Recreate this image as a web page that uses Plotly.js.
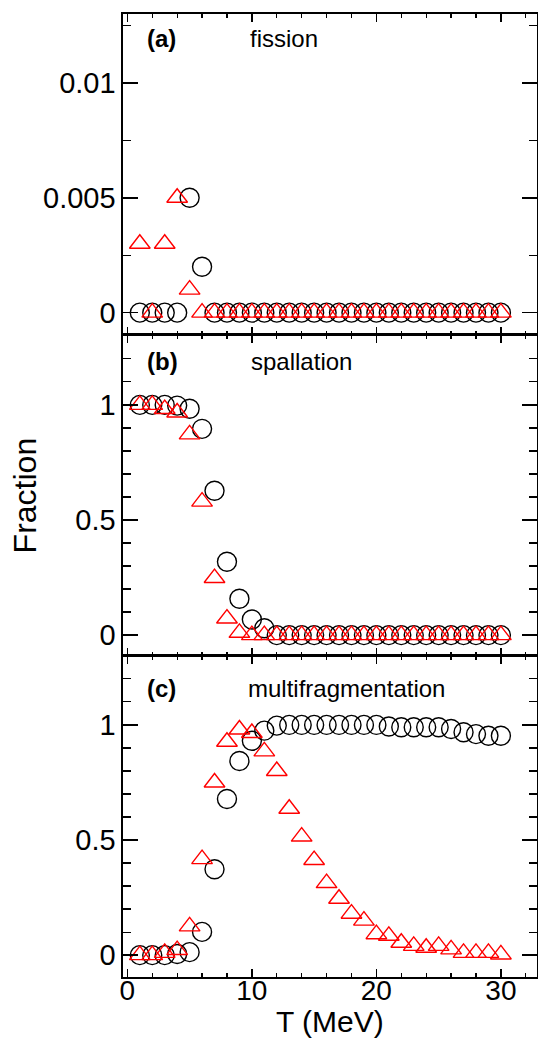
<!DOCTYPE html>
<html>
<head>
<meta charset="utf-8">
<script src="https://cdn.plot.ly/plotly-3.0.1.min.js"></script>
<style>html,body{margin:0;padding:0;background:#fff;}#chart{width:538px;height:1040px;}</style>
</head>
<body>
<div id="chart"></div>
<script>
// Temperature T (MeV)
const T = [1,2,3,4,5,6,7,8,9,10,11,12,13,14,15,16,17,18,19,20,21,22,23,24,25,26,27,28,29,30];

// (a) fission fraction
const fissionCircle = [0,0,0,0,0.005,0.002,0,0,0,0,0,0,0,0,0,0,0,0,0,0,0,0,0,0,0,0,0,0,0,0];
const fissionTriangle = [0.003,0,0.003,0.005,0.001,0,0,0,0,0,0,0,0,0,0,0,0,0,0,0,0,0,0,0,0,0,0,0,0,0];

// (b) spallation fraction
const spallCircle = [1.0,1.0,1.0,0.997,0.983,0.896,0.627,0.319,0.158,0.068,0.03,0,0,0,0,0,0,0,0,0,0,0,0,0,0,0,0,0,0,0];
const spallTriangle = [1.0,1.0,0.982,0.967,0.872,0.58,0.248,0.072,0.01,0,0,0,0,0,0,0,0,0,0,0,0,0,0,0,0,0,0,0,0,0];

// (c) multifragmentation fraction
const multiCircle = [0,0,0,0.005,0.013,0.101,0.373,0.678,0.843,0.931,0.975,0.997,1,1,1,1,1,1,1,1,0.993,0.99,0.99,0.99,0.99,0.982,0.968,0.96,0.953,0.953];
const multiTriangle = [0,0,0.01,0.022,0.125,0.417,0.75,0.927,0.98,0.965,0.885,0.80,0.636,0.515,0.413,0.313,0.245,0.18,0.15,0.091,0.084,0.054,0.04,0.032,0.04,0.025,0.01,0.01,0.01,0.003];

const panelLetters = ['(a)','(b)','(c)'];
const panelNames = ['fission','spallation','multifragmentation'];
const xTitle = 'T (MeV)';
const yTitle = 'Fraction';

const FONT = 'Liberation Sans, Arial, Helvetica, sans-serif';

function circ(y, xa, ya){
  return {x:T, y:y, xaxis:xa, yaxis:ya, type:'scatter', mode:'markers', showlegend:false,
    marker:{symbol:'circle-open', size:19, color:'#000', line:{color:'#000', width:1.4}}};
}
function tri(y, xa, ya){
  return {x:T, y:y, xaxis:xa, yaxis:ya, type:'scatter', mode:'markers', showlegend:false,
    marker:{symbol:'triangle-up-open', size:18, color:'#ff0000', line:{color:'#ff0000', width:1.4}}};
}

const data = [
  circ(fissionCircle,'x','y'), tri(fissionTriangle,'x','y'),
  circ(spallCircle,'x2','y2'), tri(spallTriangle,'x2','y2'),
  circ(multiCircle,'x3','y3'), tri(multiTriangle,'x3','y3')
];

function xax(anchor, labels){
  return {anchor:anchor, domain:[0,1], range:[-0.35,32.9], showgrid:false, zeroline:false,
    showline:true, linecolor:'#000', linewidth:1.6, mirror:'ticks',
    ticks:'inside', ticklen:8, tickwidth:1.5, tickcolor:'#000', dtick:10, tick0:0,
    minor:{dtick:2, ticks:'inside', ticklen:4, tickwidth:1.2, tickcolor:'#000'},
    showticklabels:labels, ticklabelstandoff:-12, tickfont:{family:FONT, size:28, color:'#000'}};
}
function yax(anchor, domain, range, dtick, mdtick){
  return {anchor:anchor, domain:domain, range:range, showgrid:false, zeroline:false,
    showline:true, linecolor:'#000', linewidth:1.6, mirror:'ticks',
    ticks:'inside', ticklen:15, tickwidth:1.5, tickcolor:'#000', dtick:dtick, tick0:0,
    minor:{dtick:mdtick, ticks:'inside', ticklen:8, tickwidth:1.2, tickcolor:'#000'},
    tickfont:{family:FONT, size:29, color:'#000'}};
}

const annotations = [];
const labelY = [0.975, 0.639, 0.300];
const nameX = [0.302, 0.304, 0.297];
for (let i=0;i<3;i++){
  annotations.push({xref:'paper', yref:'paper', x:0.053, y:labelY[i], xanchor:'left', yanchor:'middle',
    text:'<b>'+panelLetters[i]+'</b>', showarrow:false, font:{family:FONT, size:24, color:'#000'}});
  annotations.push({xref:'paper', yref:'paper', x:nameX[i], y:labelY[i], xanchor:'left', yanchor:'middle',
    text:panelNames[i], showarrow:false, font:{family:FONT, size:24, color:'#000'}});
}
annotations.push({xref:'paper', yref:'paper', x:-0.237, y:0.5, xanchor:'center', yanchor:'middle',
  text:yTitle, textangle:-90, showarrow:false, font:{family:FONT, size:32, color:'#000'}});
annotations.push({xref:'paper', yref:'paper', x:0.5, y:-0.0644, xanchor:'center', yanchor:'bottom',
  text:xTitle, showarrow:false, borderpad:0, font:{family:FONT, size:30, color:'#000'}});

const layout = {
  width:538, height:1040,
  margin:{l:123, r:1, t:14, b:63},
  paper_bgcolor:'#fff', plot_bgcolor:'#fff',
  showlegend:false,
  xaxis: xax('y', false),
  xaxis2: xax('y2', false),
  xaxis3: xax('y3', true),
  yaxis: yax('x', [0.667,1], [-0.00096,0.0130], 0.005, 0.0025),
  yaxis2: yax('x2', [0.3335,0.667], [-0.09,1.305], 0.5, 0.1),
  yaxis3: yax('x3', [0,0.3335], [-0.095,1.30], 0.5, 0.1),
  annotations: annotations
};

Plotly.newPlot('chart', data, layout, {staticPlot:true, displayModeBar:false});
</script>
</body>
</html>
